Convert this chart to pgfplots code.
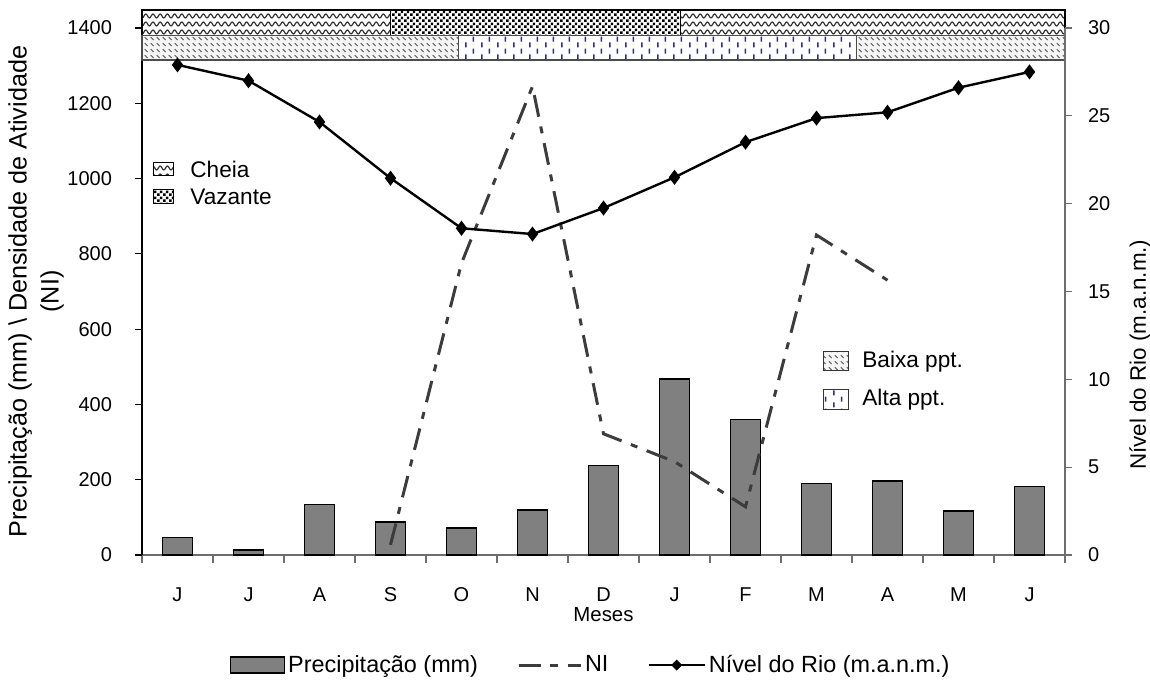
\documentclass[border=0pt]{standalone}
\usepackage{fontspec}
\setmainfont{Liberation Sans}
\usepackage{pgfplots}
\pgfplotsset{compat=1.18}
\usetikzlibrary{patterns,shapes.geometric}

\pgfdeclarepatternformonly{cheia}{\pgfqpoint{-0.5pt}{-0.5pt}}{\pgfqpoint{4.5pt}{4.5pt}}{\pgfqpoint{3.6pt}{4pt}}{%
  \pgfsetlinewidth{0.6pt}%
  \pgfpathmoveto{\pgfqpoint{0pt}{2pt}}%
  \pgfpathcurveto{\pgfqpoint{0.6pt}{3.3pt}}{\pgfqpoint{1.2pt}{3.3pt}}{\pgfqpoint{1.8pt}{2pt}}%
  \pgfpathcurveto{\pgfqpoint{2.4pt}{0.7pt}}{\pgfqpoint{3.0pt}{0.7pt}}{\pgfqpoint{3.6pt}{2pt}}%
  \pgfusepath{stroke}}
\pgfdeclarepatternformonly{vazante}{\pgfqpoint{0pt}{0pt}}{\pgfqpoint{2.8pt}{2.8pt}}{\pgfqpoint{2.8pt}{2.8pt}}{%
  \pgfpathrectangle{\pgfqpoint{0.1pt}{0.1pt}}{\pgfqpoint{1.3pt}{1.3pt}}%
  \pgfpathrectangle{\pgfqpoint{1.5pt}{1.5pt}}{\pgfqpoint{1.3pt}{1.3pt}}%
  \pgfusepath{fill}}
\pgfdeclarepatternformonly{baixa}{\pgfqpoint{-0.5pt}{-0.5pt}}{\pgfqpoint{3.5pt}{3.5pt}}{\pgfqpoint{3pt}{3pt}}{%
  \pgfsetlinewidth{0.45pt}%
  \pgfpathmoveto{\pgfqpoint{0.4pt}{2.4pt}}%
  \pgfpathlineto{\pgfqpoint{1.8pt}{1.0pt}}%
  \pgfusepath{stroke}}
\pgfdeclarepatternformonly{alta}{\pgfqpoint{0pt}{0pt}}{\pgfqpoint{8pt}{6pt}}{\pgfqpoint{8pt}{6pt}}{%
  \pgfsetlinewidth{0.75pt}%
  \pgfpathmoveto{\pgfqpoint{1pt}{0.3pt}}\pgfpathlineto{\pgfqpoint{1pt}{3pt}}%
  \pgfpathmoveto{\pgfqpoint{5pt}{3.3pt}}\pgfpathlineto{\pgfqpoint{5pt}{6pt}}%
  \pgfusepath{stroke}}

\definecolor{barfill}{RGB}{128,128,128}
\definecolor{nicol}{RGB}{60,60,60}
\definecolor{altablue}{RGB}{40,40,170}
\definecolor{axgray}{RGB}{110,110,110}

\pgfplotstableread{
x prec
0 47
1 13
2 134
3 88
4 71
5 119
6 238
7 468
8 360
9 190
10 196
11 117
12 182
}\prectable

\pgfplotstableread{
x ni
3 27
4 775
5 1245
6 322
7 248
8 128
9 850
10 730
}\nitable

\pgfplotstableread{
x nivel
0 27.9
1 27.0
2 24.65
3 21.45
4 18.6
5 18.27
6 19.75
7 21.5
8 23.5
9 24.87
10 25.2
11 26.6
12 27.5
}\niveltable

\tikzset{
  nistyle/.style={nicol, line width=1.5pt, dash pattern=on 11pt off 5pt on 3.5pt off 5pt},
  nivelstyle/.style={black, line width=1.2pt, mark=diamond*, mark size=2.8pt, mark options={solid,fill=black}},
}

\begin{document}
\begin{tikzpicture}[font=\fontsize{11.3}{13.5}\selectfont]
\path[use as bounding box] (0,0) rectangle (575pt,342pt);
\begin{axis}[
  at={(71pt,64.5pt)}, anchor=south west,
  scale only axis, width=461.5pt, height=263.5pt,
  xmin=-0.5, xmax=12.5, ymin=0, ymax=1400,
  axis x line*=bottom, axis y line*=left,
  clip=false,
  /pgf/number format/assume math mode=true,
  /pgf/number format/1000 sep={},
  ticklabel style={font=\fontsize{10}{12}\selectfont},
  ytick={0,200,...,1400},
  xtick={0,...,12},
  xticklabels={J,J,A,S,O,N,D,J,F,M,A,M,J},
  minor xtick={-0.5,0.5,...,12.5},
  major x tick style={draw=none},
  minor x tick style={axgray, line width=0.6pt},
  tick align=outside,
  minor tick length=4pt,
  major tick length=3.5pt,
  y axis line style={black, line width=0.6pt},
  x axis line style={axgray, line width=0.6pt},
  ytick style={black, line width=0.6pt},
  yticklabel style={anchor=east, xshift=-8pt},
  xticklabel style={anchor=base, yshift=-20pt},
  xlabel={Meses},
  xlabel style={font=\fontsize{10.2}{12}\selectfont, at={(axis description cs:0.5,-0.114)}, anchor=center},
  ylabel={Precipitação (mm) \textbackslash\ Densidade de Atividade\\[2pt](NI)},
  ylabel style={font=\fontsize{12.6}{14}\selectfont, align=center, at={(axis description cs:-0.1148,0.5)}, anchor=center},
  legend columns=3,
  legend style={at={(axis description cs:0.4865,-0.209)}, anchor=center, draw=none,
    /tikz/every even column/.append style={column sep=18pt},
    nodes={inner xsep=1.5pt},
    font=\fontsize{11.7}{13.5}\selectfont},
]
\addplot[ybar, bar width=15pt, fill=barfill, draw=black, line width=0.8pt,
  legend image code/.code={\draw[fill=barfill,draw=black,line width=0.8pt] (0pt,-4pt) rectangle (27pt,4pt);}]
  table[x=x,y=prec]{\prectable};
\addlegendentry{Precipitação (mm)}
\addplot[nistyle, legend image code/.code={\draw[nicol, line width=1.5pt] (0pt,0pt) -- (11.5pt,0pt); \draw[nicol, line width=1.5pt] (15.5pt,0pt) -- (18.5pt,0pt); \path (0pt,0pt) -- (31pt,0pt);}]
  table[x=x,y=ni]{\nitable};
\addlegendentry{NI}
\addlegendimage{nivelstyle, legend image code/.code={\draw[black, line width=1.2pt] (0pt,0pt) -- (28pt,0pt); \path (14pt,0pt) node[fill=black, diamond, inner sep=0pt, minimum width=6pt, minimum height=6pt] {};}}
\addlegendentry{Nível do Rio (m.a.n.m.)}

% seasonal bands
\fill[white] (axis cs:-0.5,1381) rectangle (axis cs:12.5,1448);
\fill[pattern=cheia, pattern color=black!80] (axis cs:-0.5,1381) rectangle (axis cs:3,1448);
\fill[pattern=vazante, pattern color=black] (axis cs:3,1381) rectangle (axis cs:7.08,1448);
\fill[pattern=cheia, pattern color=black!80] (axis cs:7.08,1381) rectangle (axis cs:12.5,1448);
\fill[black!4] (axis cs:-0.5,1315) rectangle (axis cs:3.96,1381);
\fill[black!4] (axis cs:9.56,1315) rectangle (axis cs:12.5,1381);
\fill[pattern=baixa, pattern color=black!60] (axis cs:-0.5,1315) rectangle (axis cs:3.96,1381);
\fill[pattern=alta, pattern color=altablue] (axis cs:3.96,1315) rectangle (axis cs:9.56,1381);
\fill[pattern=baixa, pattern color=black!60] (axis cs:9.56,1315) rectangle (axis cs:12.5,1381);
\draw[black, line width=0.6pt] (axis cs:-0.5,1381) rectangle (axis cs:3,1448);
\draw[black, line width=0.6pt] (axis cs:3,1381) rectangle (axis cs:7.08,1448);
\draw[black, line width=0.6pt] (axis cs:7.08,1381) rectangle (axis cs:12.5,1448);
\draw[black!70, line width=0.6pt] (axis cs:-0.5,1315) rectangle (axis cs:3.96,1381);
\draw[black!70, line width=0.6pt] (axis cs:3.96,1315) rectangle (axis cs:9.56,1381);
\draw[black!70, line width=0.6pt] (axis cs:9.56,1315) rectangle (axis cs:12.5,1381);
\end{axis}

\begin{axis}[
  at={(71pt,64.5pt)}, anchor=south west,
  scale only axis, width=461.5pt, height=263.5pt,
  xmin=-0.5, xmax=12.5, ymin=0, ymax=30,
  axis x line=none, axis y line*=right,
  /pgf/number format/assume math mode=true,
  ticklabel style={font=\fontsize{10}{12}\selectfont},
  ytick={0,5,...,30},
  tick align=outside,
  major tick length=3.5pt,
  y axis line style={axgray, line width=0.6pt},
  ytick style={axgray, line width=0.6pt},
  yticklabel style={anchor=west, xshift=4.5pt},
  ylabel={Nível do Rio (m.a.n.m.)},
  ylabel style={font=\fontsize{11.2}{13}\selectfont, at={(axis description cs:1.0813,0.38)}, anchor=center},
]
\addplot[nivelstyle] table[x=x,y=nivel]{\niveltable};
\end{axis}

% legend boxes for bands
\fill[white] (76.5pt,254pt) rectangle (86.5pt,260.5pt);
\fill[pattern=cheia, pattern color=black!80] (76.5pt,254pt) rectangle (86.5pt,260.5pt);
\draw[black, line width=0.5pt] (76.5pt,254pt) rectangle (86.5pt,260.5pt);
\node[anchor=west, inner sep=0pt] at (95pt,257.25pt) {Cheia};
\fill[pattern=vazante, pattern color=black] (76.5pt,240pt) rectangle (86.5pt,247pt);
\draw[black, line width=0.5pt] (76.5pt,240pt) rectangle (86.5pt,247pt);
\node[anchor=west, inner sep=0pt] at (95pt,243.5pt) {Vazante};

\fill[black!4] (411.5pt,156.5pt) rectangle (424pt,166pt);
\fill[pattern=baixa, pattern color=black!60] (411.5pt,156.5pt) rectangle (424pt,166pt);
\draw[black!80, line width=0.5pt] (411.5pt,156.5pt) rectangle (424pt,166pt);
\node[anchor=west, inner sep=0pt] at (431pt,161.25pt) {Baixa ppt.};
\fill[white] (411.5pt,137pt) rectangle (424pt,147pt);
\fill[pattern=alta, pattern color=altablue] (411.5pt,137pt) rectangle (424pt,147pt);
\draw[black!80, line width=0.5pt] (411.5pt,137pt) rectangle (424pt,147pt);
\node[anchor=west, inner sep=0pt] at (431pt,142pt) {Alta ppt.};
\end{tikzpicture}
\end{document}
